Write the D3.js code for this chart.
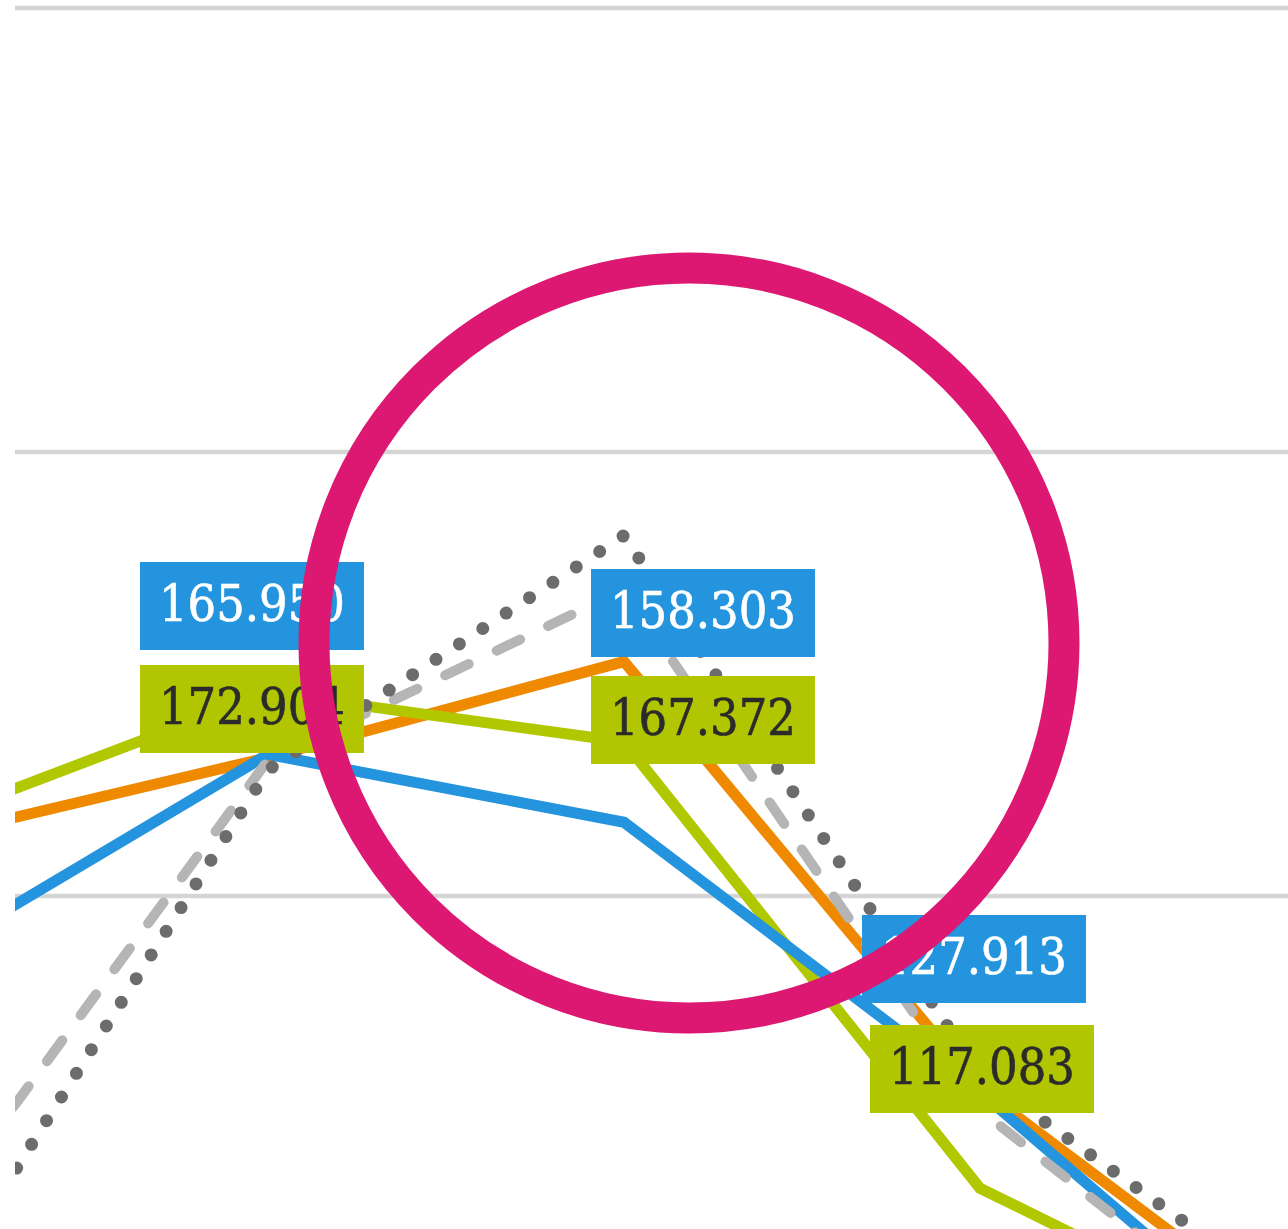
<!DOCTYPE html>
<html>
<head>
<meta charset="utf-8">
<script src="https://cdn.jsdelivr.net/npm/d3@7"></script>
<style>
  html, body { margin: 0; padding: 0; background: #fff; }
  svg { display: block; }
</style>
</head>
<body>
<div id="chart"></div>
<script>
// data points (only the middle three are inside the zoomed view)
const points = [0, 1, 2, 3, 4];
const blueValues   = [142.1, 165.950, 158.303, 127.913, 93.6];
const greenValues  = [157.7, 172.904, 167.372, 117.083, 97.4];
const orangeValues = [156.1, 165.6, 176.4, 128.3, 98.2];
const dashedValues = [110.7, 165.3, 184.5, 125.9, 94.3];
const dottedValues = [100.7, 164.2, 190.6, 129.8, 101.0];
const gridValues = [150, 200, 250];

// value labels shown on the blue and green series
const labelSeries = ['blue', 'green', 'blue', 'green', 'blue', 'green'];
const labelPoints = [1, 1, 2, 2, 3, 3];

const width = 1288;
const height = 1229;
const clipLeft = 15;

const svg = d3.select('#chart')
  .append('svg')
  .attr('width', width)
  .attr('height', height);

const x = d3.scaleLinear()
  .domain([0, 4])
  .range([-88, 1336]);

const y = d3.scaleLinear()
  .domain([150, 250])
  .range([896, 8]);

svg.append('defs')
  .append('clipPath')
  .attr('id', 'plot-clip')
  .append('rect')
  .attr('x', clipLeft)
  .attr('y', -20)
  .attr('width', width)
  .attr('height', height + 40);

// gridlines
svg.append('g')
  .selectAll('line')
  .data(gridValues)
  .enter()
  .append('line')
  .attr('x1', clipLeft)
  .attr('x2', width)
  .attr('y1', d => y(d))
  .attr('y2', d => y(d))
  .attr('stroke', '#d5d5d5')
  .attr('stroke-width', 4.5);

const series = [
  { key: 'orange', values: orangeValues, color: '#ee8900', dash: null, width: 11 },
  { key: 'green',  values: greenValues,  color: '#b1c700', dash: null, width: 11 },
  { key: 'blue',   values: blueValues,   color: '#2394dd', dash: null, width: 11 },
  { key: 'dashed', values: dashedValues, color: '#b5b5b5', dash: '26 31', width: 10 },
  { key: 'dotted', values: dottedValues, color: '#6c6c6c', dash: '0 28', width: 13 }
];

const line = d3.line()
  .x((d, i) => x(points[i]))
  .y(d => y(d));

svg.append('g')
  .attr('clip-path', 'url(#plot-clip)')
  .selectAll('path')
  .data(series)
  .enter()
  .append('path')
  .attr('d', d => line(d.values))
  .attr('fill', 'none')
  .attr('stroke', d => d.color)
  .attr('stroke-width', d => d.width)
  .attr('stroke-linecap', d => d.dash ? 'round' : 'butt')
  .attr('stroke-linejoin', 'miter')
  .attr('stroke-dasharray', d => d.dash);

// label boxes (annotation layout, pixel offsets from each point)
const labelLayout = [
  { dx: -128, top: 562 },
  { dx: -128, top: 665 },
  { dx: -33,  top: 569 },
  { dx: -33,  top: 676 },
  { dx: -118, top: 915 },
  { dx: -110, top: 1025 }
];

const valuesFor = { blue: blueValues, green: greenValues };
const labelColors = { blue: '#2394dd', green: '#b1c600' };
const textColors = { blue: '#ffffff', green: '#2b2b2b' };

const labels = svg.append('g')
  .selectAll('g')
  .data(labelSeries.map((s, i) => ({
    series: s,
    point: labelPoints[i],
    value: valuesFor[s][labelPoints[i]],
    layout: labelLayout[i]
  })))
  .enter()
  .append('g')
  .attr('transform', d => `translate(${x(d.point) + d.layout.dx},${d.layout.top})`);

labels.append('rect')
  .attr('height', 88)
  .attr('fill', d => labelColors[d.series]);

labels.append('text')
  .attr('x', 19)
  .attr('y', 59)
  .attr('font-family', '"DejaVu Serif Condensed", "DejaVu Serif", serif')
  .style('font-stretch', 'condensed')
  .attr('font-size', 50)
  .attr('stroke', d => textColors[d.series])
  .attr('stroke-width', 0.6)
  .attr('fill', d => textColors[d.series])
  .text(d => d.value.toFixed(3));

labels.each(function() {
  const g = d3.select(this);
  const w = g.select('text').node().getComputedTextLength();
  g.select('rect').attr('width', w + 38);
});

// highlight ring
svg.append('circle')
  .attr('cx', x(2) + 65)
  .attr('cy', 643)
  .attr('r', 375)
  .attr('fill', 'none')
  .attr('stroke', '#dc1872')
  .attr('stroke-width', 31);
</script>
</body>
</html>
